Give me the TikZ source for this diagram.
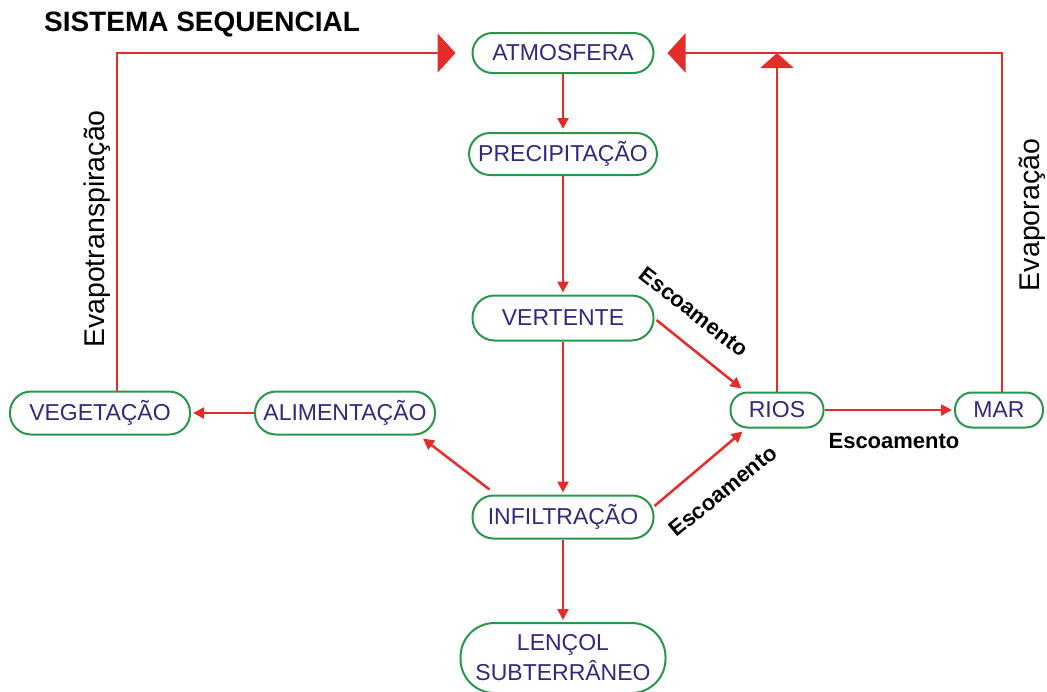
\documentclass[tikz,border=0pt]{standalone}
\usepackage{fontspec}
\setmainfont{Liberation Sans}
\usetikzlibrary{arrows.meta,calc}
\definecolor{rd}{RGB}{228,45,40}
\definecolor{gr}{RGB}{40,150,75}
\definecolor{tx}{RGB}{50,40,125}
\begin{document}
\begin{tikzpicture}[x=1pt,y=-1pt,
  box/.style={draw=gr,line width=2pt,fill=white,text=tx,inner sep=0pt,align=center,
    font=\fontsize{23}{30}\selectfont},
  arr/.style={draw=rd,line width=2.5pt,-{Triangle[length=11pt,width=11pt]}},
  bigarr/.style={draw=rd,line width=2.5pt,-{Triangle[length=18pt,width=39pt]}},
  uparr/.style={draw=rd,line width=2.5pt,-{Triangle[length=15pt,width=33pt]}},
  lbl/.style={text=black,font=\fontsize{22}{26}\selectfont\bfseries,inner sep=0pt},
  side/.style={text=black,font=\fontsize{28.5}{30}\selectfont,inner sep=0pt,rotate=90}]
\useasboundingbox (0,0) rectangle (1047,691);

\node[text=black,font=\fontsize{28}{32}\selectfont\bfseries,inner sep=0pt] (title) at (202,24) {SISTEMA SEQUENCIAL};

\node[box,minimum width=181pt,minimum height=40pt,rounded corners=20pt] (atm) at (563,53) {ATMOSFERA};
\node[box,minimum width=188pt,minimum height=42pt,rounded corners=21pt] (prec) at (563,154) {PRECIPITAÇÃO};
\node[box,minimum width=181pt,minimum height=45pt,rounded corners=22pt] (vert) at (563,318) {VERTENTE};
\node[box,minimum width=180pt,minimum height=43pt,rounded corners=21pt] (veg) at (100,413) {VEGETAÇÃO};
\node[box,minimum width=180pt,minimum height=43pt,rounded corners=21pt] (ali) at (345,413) {ALIMENTAÇÃO};
\node[box,minimum width=93pt,minimum height=35pt,rounded corners=17pt] (rios) at (777,410) {RIOS};
\node[box,minimum width=88pt,minimum height=35pt,rounded corners=17pt] (mar) at (999,410) {MAR};
\node[box,minimum width=181pt,minimum height=43pt,rounded corners=21pt] (inf) at (563,517) {INFILTRAÇÃO};
\node[box,minimum width=205pt,minimum height=70pt,rounded corners=34pt] (len) at (563,658) {LENÇOL\\SUBTERRÂNEO};

\coordinate (tl) at (117,53);
\coordinate (tr) at (1002,53);

% central chain
\draw[arr,shorten >=3pt] (atm) -- (prec);
\draw[arr,shorten >=2pt] (prec) -- (vert);
\draw[arr,shorten >=2pt] (vert) -- (inf);
\draw[arr,shorten >=2pt] (inf) -- (len);

% side flows
\draw[arr] ($(inf.north west)+(18,-5)$) -- ($(ali.south east)+(-13,3)$);
\draw[arr,shorten >=2pt] (ali) -- (veg);
\draw[arr] ($(vert.east)+(2,2)$) -- ($(rios.north west)+(12,-3)$);
\draw[arr] ($(inf.east)+(0,-11)$) -- ($(rios.south west)+(13,3)$);
\draw[arr,shorten >=2pt] (rios) -- (mar);

% evaporation loops
\draw[bigarr,shorten >=16pt] (veg.north -| tl) -- (tl) -- (atm.west);
\draw[bigarr,shorten >=13pt] (mar.north -| tr) -- (tr) -- (atm.east);
\draw[uparr] (rios.north) -- (rios.north |- tr);

% labels
\node[side] (evt) at (97,229) {Evapotranspiração};
\node[side] (evp) at (1032,215) {Evaporação};
\node[lbl] (e1) at (894,441) {Escoamento};
\node[lbl,rotate=-38] (e2) at (694,312) {Escoamento};
\node[lbl,rotate=39] (e3) at (723,491) {Escoamento};
\end{tikzpicture}
\end{document}
